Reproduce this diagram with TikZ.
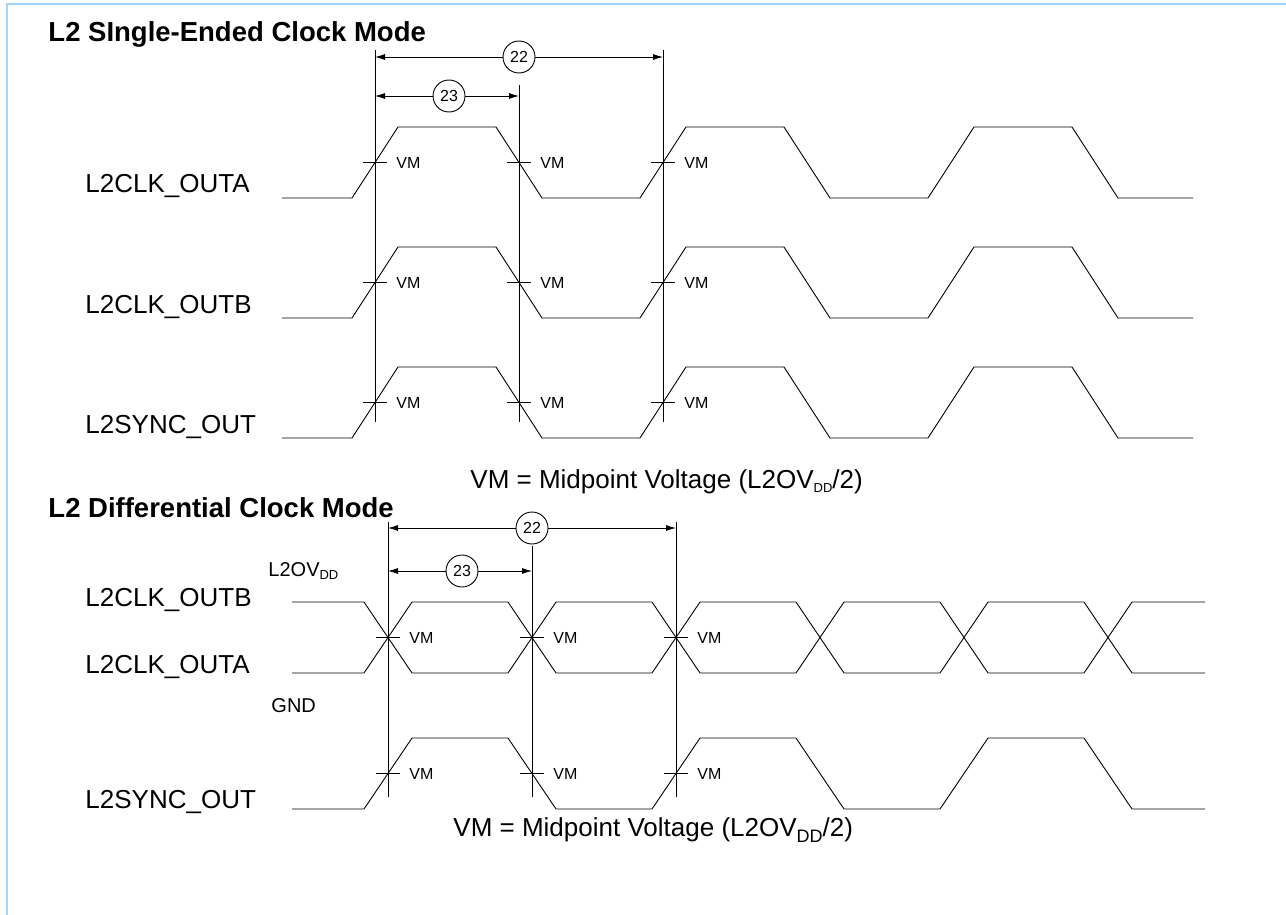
\documentclass[tikz,border=0pt]{standalone}
\usepackage{fontspec}
\setmainfont{Liberation Sans}
\usetikzlibrary{arrows.meta}
\definecolor{framecol}{RGB}{160,214,252}
\begin{document}
\begin{tikzpicture}[x=1pt,y=-1pt,line width=.9pt,
  sig/.style={line width=.9pt},
  dim/.style={-{Latex[length=10pt,width=6pt]},line width=.9pt},
  num/.style={circle,draw,fill=white,minimum size=32pt,inner sep=0pt,font=\fontsize{16}{18}\selectfont},
  vm/.style={anchor=west,inner sep=0pt,font=\fontsize{16}{18}\selectfont},
  lbl/.style={anchor=base west,inner sep=0pt,font=\fontsize{26}{30}\selectfont},
  ttl/.style={anchor=base west,inner sep=0pt,font=\fontsize{27.5}{30}\selectfont\bfseries},
  note/.style={anchor=west,inner sep=0pt,font=\fontsize{26}{30}\selectfont}]
\newcommand\tick[3]{%
\draw (#1-12,#2) -- (#1+12,#2) (#1,#2-12) -- (#1,#2+12);%
\node[vm] (#3) at (#1+21,#2) {VM};%
}
\newcommand\sewave[2]{%
\draw[sig] (282,#1) -- (352,#1) -- (398,#2) -- (496,#2) -- (542,#1) -- (640,#1) -- (686,#2) -- (784,#2) -- (830,#1) -- (928,#1) -- (974,#2) -- (1072,#2) -- (1118,#1) -- (1193,#1);%
}
\useasboundingbox (0,0) rectangle (1286,915);
\draw[framecol,line width=1.6pt] (7,915) -- (7,4) -- (1286,4);

% single-ended clock mode
\node[ttl] (title1) at (48,42) {L2 SIngle-Ended Clock Mode};
\coordinate (sa) at (375,50);
\coordinate (sb) at (519,85);
\coordinate (sc) at (663,50);
\draw (sa) -- (375,422);
\draw (sb) -- (519,422);
\draw (sc) -- (663,422);

\node[num] (s22) at (519,57) {22};
\draw[dim] (s22) -- (375,57);
\draw[dim] (s22) -- (663,57);
\node[num] (s23) at (449,96) {23};
\draw[dim] (s23) -- (375,96);
\draw[dim] (s23) -- (519,96);

\node[lbl] (outa) at (85,193) {L2CLK\_OUTA};
\node[lbl] (outb) at (85,313) {L2CLK\_OUTB};
\node[lbl] (sync) at (85,433) {L2SYNC\_OUT};
\sewave{198}{127}
\sewave{318}{247}
\sewave{438}{367}
\tick{375}{162.5}{vma1}
\tick{519}{162.5}{vma2}
\tick{663}{162.5}{vma3}
\tick{375}{282.5}{vmb1}
\tick{519}{282.5}{vmb2}
\tick{663}{282.5}{vmb3}
\tick{375}{402.5}{vms1}
\tick{519}{402.5}{vms2}
\tick{663}{402.5}{vms3}

\node[note] (note1) at (470,482) {VM = Midpoint Voltage (L2OV\raisebox{-.25ex}{\fontsize{13}{15}\selectfont DD}/2)};

% differential clock mode
\node[ttl] (title2) at (48,517) {L2 Differential Clock Mode};
\coordinate (da) at (388,522);
\coordinate (db) at (532,546);
\coordinate (dc) at (676,522);
\draw (da) -- (388,797);
\draw (db) -- (532,797);
\draw (dc) -- (676,797);

\node[num] (d22) at (532,528) {22};
\draw[dim] (d22) -- (388,528);
\draw[dim] (d22) -- (676,528);
\node[num] (d23) at (462,571) {23};
\draw[dim] (d23) -- (388,571);
\draw[dim] (d23) -- (532,571);

\node[anchor=base west,inner sep=0pt,font=\fontsize{20}{22}\selectfont] (vdd) at (268,576) {L2OV\raisebox{-.3ex}{\fontsize{13}{14}\selectfont DD}};
\node[anchor=base west,inner sep=0pt,font=\fontsize{20}{22}\selectfont] (gnd) at (271,712) {GND};
\node[lbl] (doutb) at (85,606) {L2CLK\_OUTB};
\node[lbl] (douta) at (85,673) {L2CLK\_OUTA};
\node[lbl] (dsync) at (85,808) {L2SYNC\_OUT};

\draw[sig] (292,602) -- (364,602) -- (412,673) -- (508,673) -- (556,602) -- (652,602) -- (700,673) -- (796,673) -- (844,602) -- (940,602) -- (988,673) -- (1084,673) -- (1132,602) -- (1205,602);
\draw[sig] (292,673) -- (364,673) -- (412,602) -- (508,602) -- (556,673) -- (652,673) -- (700,602) -- (796,602) -- (844,673) -- (940,673) -- (988,602) -- (1084,602) -- (1132,673) -- (1205,673);
\draw[sig] (292,809) -- (364,809) -- (412,738) -- (508,738) -- (556,809) -- (652,809) -- (700,738) -- (796,738) -- (844,809) -- (940,809) -- (988,738) -- (1084,738) -- (1132,809) -- (1205,809);
\tick{388}{637.5}{vmd1}
\tick{532}{637.5}{vmd2}
\tick{676}{637.5}{vmd3}
\tick{388}{773.5}{vmt1}
\tick{532}{773.5}{vmt2}
\tick{676}{773.5}{vmt3}

\node[note] (note2) at (453,830) {VM = Midpoint Voltage (L2OV\raisebox{-.4ex}{\fontsize{18}{20}\selectfont DD}/2)};
\end{tikzpicture}
\end{document}
